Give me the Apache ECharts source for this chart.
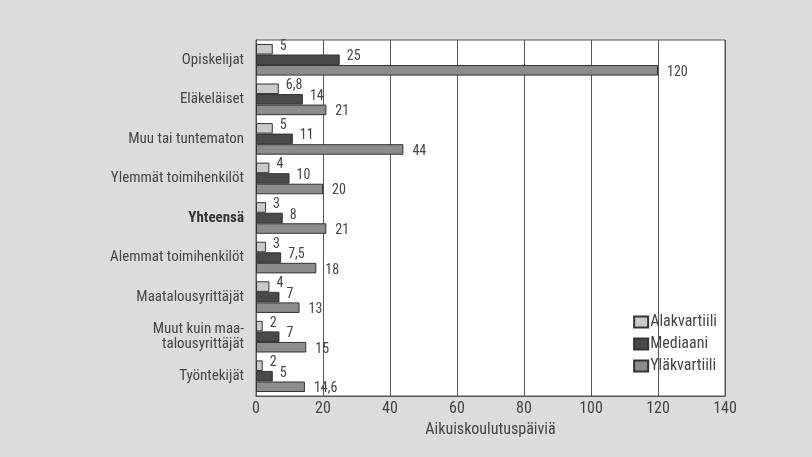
<!DOCTYPE html>
<html>
<head>
<meta charset="utf-8">
<script src="https://cdn.jsdelivr.net/npm/echarts@6/dist/echarts.min.js"></script>
<style>
html, body { margin: 0; padding: 0; background: #dcdcdc; }
#chart { width: 812px; height: 457px; }
</style>
</head>
<body>
<div id="chart"></div>
<script>
const categories = ['Opiskelijat', 'Eläkeläiset', 'Muu tai tuntematon', 'Ylemmät toimihenkilöt', 'Yhteensä',
  'Alemmat toimihenkilöt', 'Maatalousyrittäjät', 'Muut kuin maa-\ntalousyrittäjät', 'Työntekijät'];
const alakvartiili = [5, 6.8, 5, 4, 3, 3, 4, 2, 2];
const mediaani = [25, 14, 11, 10, 8, 7.5, 7, 7, 5];
const ylakvartiili = [120, 21, 44, 20, 21, 18, 13, 15, 14.6];
const xTicks = [0, 20, 40, 60, 80, 100, 120, 140];

const font = '"Liberation Sans Narrow", "Roboto Condensed", "DejaVu Sans Condensed", sans-serif';
const fmt = p => String(p.value).replace('.', ',');

function bar(name, data, color, offset) {
  return {
    name, type: 'bar', data,
    barGap: '0%', barCategoryGap: '20%',
    itemStyle: { color, borderColor: '#333', borderWidth: 1 },
    label: {
      show: true, position: 'right', offset, formatter: fmt,
      color: '#444', fontFamily: font, fontSize: 14
    }
  };
}

const chart = echarts.init(document.getElementById('chart'));
chart.setOption({
  backgroundColor: '#dcdcdc',
  animation: false,
  textStyle: { fontFamily: font },
  grid: { left: 256, right: 87, top: 40, bottom: 61, show: true, backgroundColor: '#fff', borderColor: '#555', borderWidth: 1 },
  legend: {
    orient: 'vertical', right: 90, top: 309, itemGap: 6,
    icon: 'rect', itemWidth: 14, itemHeight: 11,
    textStyle: { color: '#444', fontSize: 16, fontFamily: font, padding: [0, 0, 0, -3] },
    data: ['Alakvartiili', 'Mediaani', 'Yläkvartiili']
  },
  xAxis: {
    type: 'value', min: xTicks[0], max: xTicks[xTicks.length - 1], interval: 20,
    name: 'Aikuiskoulutuspäiviä', nameLocation: 'middle', nameGap: 25,
    nameTextStyle: { color: '#444', fontSize: 16, fontFamily: font },
    axisLine: { show: true, lineStyle: { color: '#555' } },
    axisTick: { show: false },
    axisLabel: { color: '#444', fontSize: 16, fontFamily: font, margin: 5 },
    splitLine: { show: true, lineStyle: { color: '#555', width: 1 } }
  },
  yAxis: {
    type: 'category', data: categories, inverse: true,
    axisLine: { show: true, lineStyle: { color: '#555' } },
    axisTick: { show: false },
    axisLabel: {
      color: '#444', fontSize: 15, fontFamily: font, margin: 12, lineHeight: 15,
      formatter: v => v === 'Yhteensä' ? '{b|' + v + '}' : v,
      rich: { b: { fontWeight: 'bold', fontSize: 15, color: '#333', fontFamily: font } }
    }
  },
  series: [
    bar('Alakvartiili', alakvartiili, '#cacaca', [2, -3]),
    bar('Mediaani', mediaani, '#4a4a4a', [2, -3]),
    bar('Yläkvartiili', ylakvartiili, '#8c8c8c', [4, 2])
  ]
});
</script>
</body>
</html>
